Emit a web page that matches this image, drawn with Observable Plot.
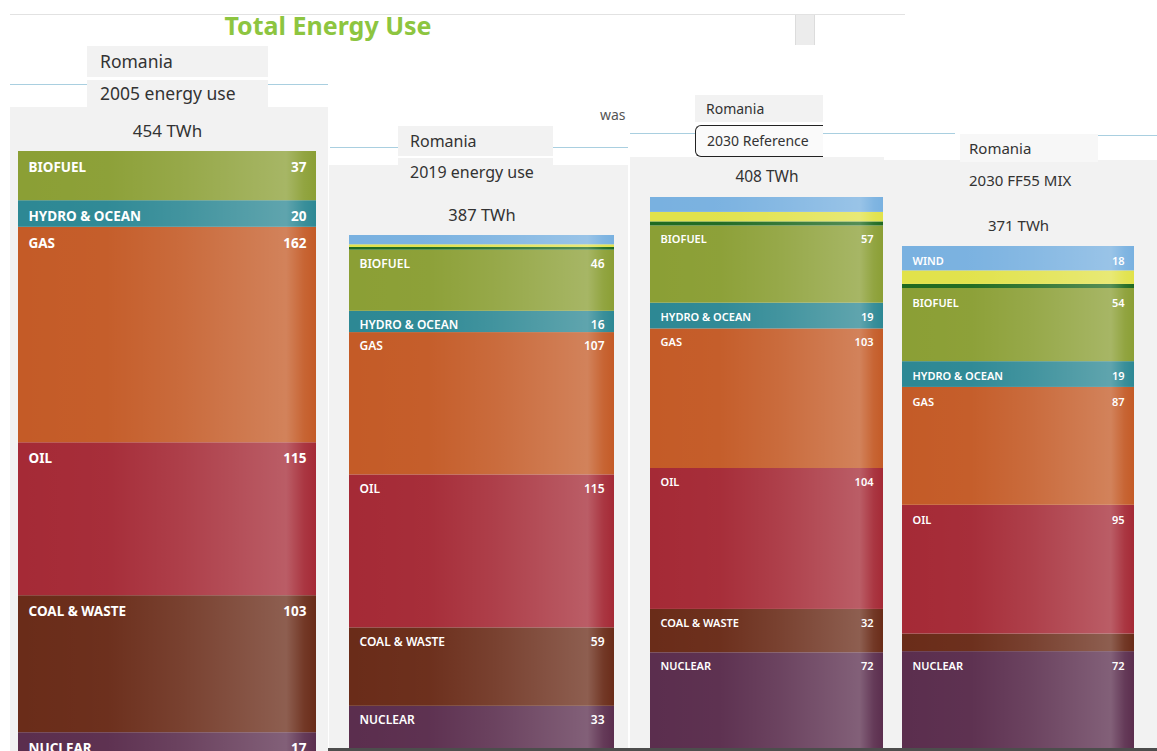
<!DOCTYPE html>
<html>
<head>
<meta charset="utf-8">
<script src="https://cdn.jsdelivr.net/npm/d3@7"></script>
<script src="https://cdn.jsdelivr.net/npm/@observablehq/plot@0.6"></script>
<style>
  html, body { margin: 0; padding: 0; background: #fff; overflow: hidden; }
  #page { position: relative; width: 1157px; height: 751px; overflow: hidden; font-family: "Noto Sans", "Open Sans", sans-serif; color: #333; }
  .abs { position: absolute; box-sizing: border-box; }
  .rule { height: 1px; background: #a9cfe0; }
  .tab { background: #f2f2f2; white-space: nowrap; overflow: hidden; }
  .panel svg { display: block; }
</style>
</head>
<body>
<div id="page"></div>
<script>
// Energy use of Romania (TWh) by source, one entry per scenario
const country = "Romania";
const scenarios = ["2005 energy use", "2019 energy use", "2030 Reference", "2030 FF55 MIX"];
const totals = [454, 387, 408, 371];

// Sources, listed from the bottom of each stack to the top
const categories = ["NUCLEAR", "COAL & WASTE", "OIL", "GAS", "HYDRO & OCEAN", "BIOFUEL", "OTHER", "SOLAR", "WIND"];
const nuclear    = [17, 33, 72, 72];
const coalWaste  = [103, 59, 32, 13];
const oil        = [115, 115, 104, 95];
const gas        = [162, 107, 103, 87];
const hydroOcean = [20, 16, 19, 19];
const biofuel    = [37, 46, 57, 54];
const other      = [0, 2, 3, 3];
const solar      = [0, 2, 7, 10];
const wind       = [0, 7, 11, 18];
const series = [nuclear, coalWaste, oil, gas, hydroOcean, biofuel, other, solar, wind];

const colors = ["#5b2e4e", "#6a2c19", "#a52a36", "#c45b27", "#2d8894", "#8b9f35", "#1f6a21", "#e1e24a", "#79b1e0"];

// Page geometry of each scenario panel
const layout = [
  {left: 10,  width: 318, svgTop: 107, barLeft: 18,  barRight: 316,  barTop: 151, k: 1.33,  labelDy: 16, font: 13.5, weight: 700, totalSize: 17},
  {left: 329, width: 299, svgTop: 165, barLeft: 349, barRight: 614,  barTop: 235, k: 1.33,  labelDy: 14, font: 12,   weight: 600, totalSize: 16.5},
  {left: 630, width: 254, svgTop: 157, barLeft: 650, barRight: 883,  barTop: 197, k: 1.355, labelDy: 14, font: 11,   weight: 600, totalSize: 15.5},
  {left: 884, width: 273, svgTop: 160, barLeft: 902, barRight: 1134, barTop: 246, k: 1.355, labelDy: 15, font: 11,   weight: 600, totalSize: 15}
];

const page = document.getElementById("page");
function box(css, text) {
  const d = document.createElement("div");
  d.className = "abs " + (css.cls || "");
  Object.assign(d.style, css.style || {});
  if (text != null) d.textContent = text;
  page.appendChild(d);
  return d;
}

// Top strip and heading
box({style: {left: "10px", top: "14px", width: "895px", height: "1px", background: "#e2e2e2"}});
box({style: {left: "795px", top: "15px", width: "20px", height: "30px", background: "#ececec", borderLeft: "1px solid #dcdcdc", borderRight: "1px solid #dcdcdc"}});
box({style: {left: "128px", top: "8px", width: "400px", textAlign: "center", fontSize: "25px", fontWeight: "700", color: "#8dc540", lineHeight: "34px"}}, "Total Energy Use");

// Blue rules behind the panel tabs
box({cls: "rule", style: {left: "10px", top: "84px", width: "318px"}});
box({cls: "rule", style: {left: "330px", top: "147px", width: "298px"}});
box({cls: "rule", style: {left: "630px", top: "133px", width: "325px"}});
box({cls: "rule", style: {left: "1098px", top: "135px", width: "59px"}});

box({style: {left: "600px", top: "104px", fontSize: "14px", color: "#555", lineHeight: "22px"}}, "was");

function plotPanel(i) {
  const p = layout[i];
  const rows = [];
  let acc = 0;
  categories.forEach((c, j) => {
    const v = series[j][i];
    if (v > 0) { rows.push({cat: c, value: v, y1: acc, y2: acc + v}); acc += v; }
  });
  const total = totals[i];
  const H = 751 - p.svgTop;
  const top = p.barTop - p.svgTop;
  const gid = "sheen" + i;
  const labelled = rows.filter(d => d.value >= 15 && d.cat !== "SOLAR" && d.cat !== "OTHER");

  const chart = Plot.plot({
    width: p.width,
    height: H,
    margin: 0,
    x: {domain: [0, 1], range: [p.barLeft - p.left, p.barRight - p.left], axis: null},
    y: {domain: [0, total], range: [top + total * p.k, top], axis: null},
    color: {domain: categories, range: colors},
    style: {background: "#f2f2f2", overflow: "hidden"},
    marks: [
      () => {
        const defs = d3.create("svg:defs");
        const g = defs.append("linearGradient").attr("id", gid).attr("x1", 0).attr("x2", 1).attr("y1", 0).attr("y2", 0);
        [[0, 0], [0.3, 0.02], [0.55, 0.1], [0.8, 0.2], [0.9, 0.24], [0.96, 0.06], [1, 0]].forEach(([o, a]) =>
          g.append("stop").attr("offset", o).attr("stop-color", "#fff").attr("stop-opacity", a));
        return defs.node();
      },
      Plot.rect(rows, {x1: 0, x2: 1, y1: "y1", y2: "y2", fill: "cat"}),
      Plot.rect(rows, {x1: 0, x2: 1, y1: "y1", y2: "y2", fill: `url(#${gid})`}),
      Plot.text(labelled, {x: 0, y: "y2", text: "cat", dx: 10, dy: p.labelDy, textAnchor: "start",
        fill: "#fff", fontSize: p.font, fontWeight: p.weight, fontFamily: "Noto Sans, sans-serif"}),
      Plot.text(labelled, {x: 1, y: "y2", text: d => String(d.value), dx: -10, dy: p.labelDy, textAnchor: "end",
        fill: "#fff", fontSize: p.font, fontWeight: p.weight, fontFamily: "Noto Sans, sans-serif"}),
      Plot.text([total], {x: 0.5, y: d => d, text: d => `${d} TWh`, dy: -20, fill: "#333",
        fontSize: p.totalSize, fontFamily: "Noto Sans, sans-serif"})
    ]
  });
  const wrap = document.createElement("div");
  wrap.className = "abs panel";
  wrap.style.left = p.left + "px";
  wrap.style.top = p.svgTop + "px";
  wrap.appendChild(chart);
  page.appendChild(wrap);
}
layout.forEach((_, i) => plotPanel(i));

// Panel tabs
const tabs = [
  {left: 87,  width: 181, top1: 46,  h1: 31, top2: 80,  h2: 27, size: 17.5, pad: 13},
  {left: 398, width: 155, top1: 126, h1: 30, top2: 158, h2: 28, size: 16,   pad: 12},
  {left: 695, width: 128, top1: 95,  h1: 27, top2: 125, h2: 32, size: 14,   pad: 11},
  {left: 960, width: 138, top1: 134, h1: 28, top2: 165, h2: 30, size: 15,   pad: 9}
];
tabs.forEach((t, i) => {
  box({cls: "tab", style: {left: t.left + "px", top: t.top1 + "px", width: t.width + "px", height: t.h1 + "px",
    lineHeight: t.h1 + "px", paddingLeft: t.pad + "px", fontSize: t.size + "px", background: i === 3 ? "#f7f7f7" : "#f2f2f2"}}, country);
  const s = {left: t.left + "px", top: t.top2 + "px", width: t.width + "px", height: t.h2 + "px",
    lineHeight: t.h2 + "px", paddingLeft: t.pad + "px", fontSize: t.size + "px"};
  if (i === 2) Object.assign(s, {background: "#fafafa", border: "1px solid #222", borderRight: "none", borderRadius: "6px 0 0 6px", lineHeight: (t.h2 - 2) + "px"});
  box({cls: "tab", style: s}, scenarios[i]);
});

// Scroll track along the bottom edge
box({style: {left: "328px", top: "748px", width: "829px", height: "3px", background: "#4d4d4d"}});
</script>
</body>
</html>
